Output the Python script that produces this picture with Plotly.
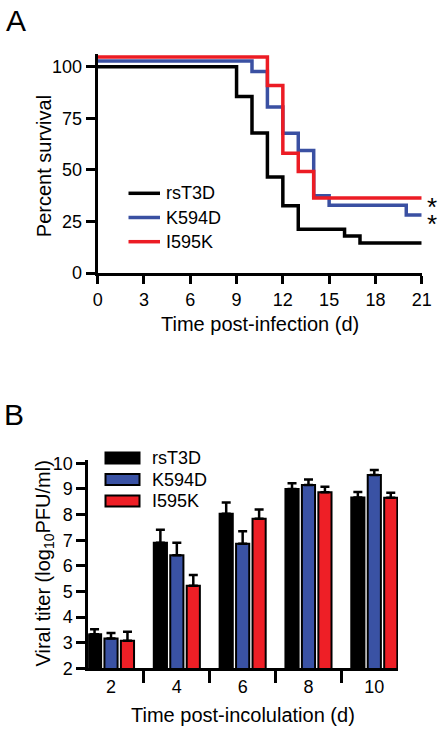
import plotly.graph_objects as go

W, H = 440, 731
FONT = "Liberation Sans, Arial, sans-serif"

# ---------------- Panel A data (Kaplan-Meier steps, as drawn) ----------------
series_names = ["rsT3D", "K594D", "I595K"]
colors_line = ["#000000", "#3A50A2", "#EC1C24"]
colors_bar = ["#000000", "#3A52A4", "#EE1F26"]

days_rsT3D = [0, 9, 10, 11, 12, 13, 16, 17, 21]
surv_rsT3D = [100, 85.6, 67.8, 46.5, 32.6, 21.2, 17.9, 14.5, 14.5]
days_K594D = [0, 10, 11, 12, 13, 14, 15, 20, 21]
surv_K594D = [102.8, 97.7, 80.4, 67.7, 59.4, 37.5, 32.8, 28.1, 28.1]
days_I595K = [0, 11, 12, 13, 14, 21]
surv_I595K = [104.7, 90.9, 58.1, 49.2, 36.3, 36.3]
sig_A = ["", "*", "*"]

xticks_A = [0, 3, 6, 9, 12, 15, 18, 21]
yticks_A = [0, 25, 50, 75, 100]

# ---------------- Panel B data (bar means and SEM) ----------------
days_B = ["2", "4", "6", "8", "10"]
titer_rsT3D = [3.33, 6.90, 8.03, 9.00, 8.67]
err_rsT3D = [0.19, 0.51, 0.44, 0.22, 0.21]
titer_K594D = [3.16, 6.41, 6.86, 9.15, 9.54]
err_K594D = [0.22, 0.49, 0.49, 0.22, 0.20]
titer_I595K = [3.08, 5.22, 7.84, 8.87, 8.66]
err_I595K = [0.35, 0.42, 0.36, 0.22, 0.19]
yticks_B = [2, 3, 4, 5, 6, 7, 8, 9, 10]


def px(p):
    return p / W


def py(p):
    return 1 - p / H


fig = go.Figure()

surv_days = [days_rsT3D, days_K594D, days_I595K]
surv_vals = [surv_rsT3D, surv_K594D, surv_I595K]
for name, d, s, c in zip(series_names, surv_days, surv_vals, colors_line):
    fig.add_trace(go.Scatter(x=d, y=s, mode="lines", line=dict(color=c, width=3.5, shape="hv"),
                             name=name, showlegend=False, xaxis="x", yaxis="y", cliponaxis=False))

titers = [titer_rsT3D, titer_K594D, titer_I595K]
errs = [err_rsT3D, err_K594D, err_I595K]
for name, t, e, c in zip(series_names, titers, errs, colors_bar):
    fig.add_trace(go.Bar(x=days_B, y=t, name=name, showlegend=False, xaxis="x2", yaxis="y2",
                         marker=dict(color=c, line=dict(color="#000000", width=2)),
                         error_y=dict(type="data", array=e, symmetric=False,
                                      arrayminus=[0] * len(e), color="#000000",
                                      thickness=2.5, width=4.5)))

axis_common = dict(showline=True, linecolor="#000000", linewidth=3, ticks="outside",
                   tickcolor="#000000", tickwidth=3, showgrid=False, zeroline=False,
                   automargin=False,
                   tickfont=dict(family=FONT, size=18, color="#000000"))

annotations = []
shapes = []

# asterisks on survival curves
for s, lab, c in zip(surv_vals, sig_A, colors_line):
    if lab:
        annotations.append(dict(x=21, y=s[-1], xref="x", yref="y", text=lab, showarrow=False,
                                xanchor="left", yanchor="middle", xshift=3, yshift=-9,
                                font=dict(family=FONT, size=26, color="#000000")))

# Panel A legend
for i, (name, c) in enumerate(zip(series_names, colors_line)):
    yy = 193.3 + i * 24.2
    shapes.append(dict(type="line", xref="paper", yref="paper", x0=px(128.5), x1=px(160),
                       y0=py(yy), y1=py(yy), line=dict(color=c, width=3.5)))
    annotations.append(dict(x=px(163.5), y=py(yy), xref="paper", yref="paper", text=name,
                            showarrow=False, xanchor="left", yanchor="middle",
                            font=dict(family=FONT, size=18, color="#000000")))

# Panel B legend
for i, (name, c) in enumerate(zip(series_names, colors_bar)):
    yy = 458 + i * 21.5
    shapes.append(dict(type="rect", xref="paper", yref="paper", x0=px(105.5), x1=px(139.5),
                       y0=py(yy - 5.5), y1=py(yy + 5.5), fillcolor=c,
                       line=dict(color="#000000", width=2)))
    annotations.append(dict(x=px(149.5), y=py(yy), xref="paper", yref="paper", text=name,
                            showarrow=False, xanchor="left", yanchor="middle",
                            font=dict(family=FONT, size=18, color="#000000")))

# Axis titles and panel labels
title_font = dict(family=FONT, size=20, color="#000000")
ctr = dict(xref="paper", yref="paper", showarrow=False, xanchor="center", yanchor="middle")
annotations += [
    dict(x=px(43.5), y=py(166.7), text="Percent survival", textangle=-90, font=title_font, **ctr),
    dict(x=px(260), y=py(324), text="Time post-infection (d)", font=title_font, **ctr),
    dict(x=px(43.5), y=py(564), text="Viral titer (log<sub>10</sub>PFU/ml)", textangle=-90,
         font=title_font, **ctr),
    dict(x=px(242.5), y=py(715), text="Time post-incolulation (d)", font=title_font, **ctr),
    dict(x=px(16), y=py(21), text="A", font=dict(family=FONT, size=30, color="#000000"), **ctr),
    dict(x=px(14), y=py(415), text="B", font=dict(family=FONT, size=30, color="#000000"), **ctr),
]

fig.update_layout(
    template="none",
    width=W, height=H, margin=dict(l=0, r=0, t=0, b=0, pad=0, autoexpand=False),
    paper_bgcolor="white", plot_bgcolor="white",
    font=dict(family=FONT, color="#000000"),
    showlegend=False,
    barmode="group", bargap=0.25, bargroupgap=0.2,
    xaxis=dict(domain=[px(97.7), px(421.7)], range=[0, 21], tickvals=xticks_A, ticklen=8,
               anchor="y", **axis_common),
    yaxis=dict(domain=[py(273), py(54.3)], range=[0, 106], tickvals=yticks_A, ticklen=9,
               anchor="x", **axis_common),
    xaxis2=dict(domain=[px(88.3), px(398)], type="category", range=[-0.345, 4.36],
                tickson="boundaries", ticklen=12, anchor="y2", **axis_common),
    yaxis2=dict(domain=[py(668.3), py(460)], range=[2, 10.13], tickvals=yticks_B, ticklen=9,
                anchor="x2", **axis_common),
    annotations=annotations, shapes=shapes,
)

fig.write_html("out.html", config={"displayModeBar": False},
               post_script="document.body.style.margin='0';document.body.style.overflow='hidden';")
